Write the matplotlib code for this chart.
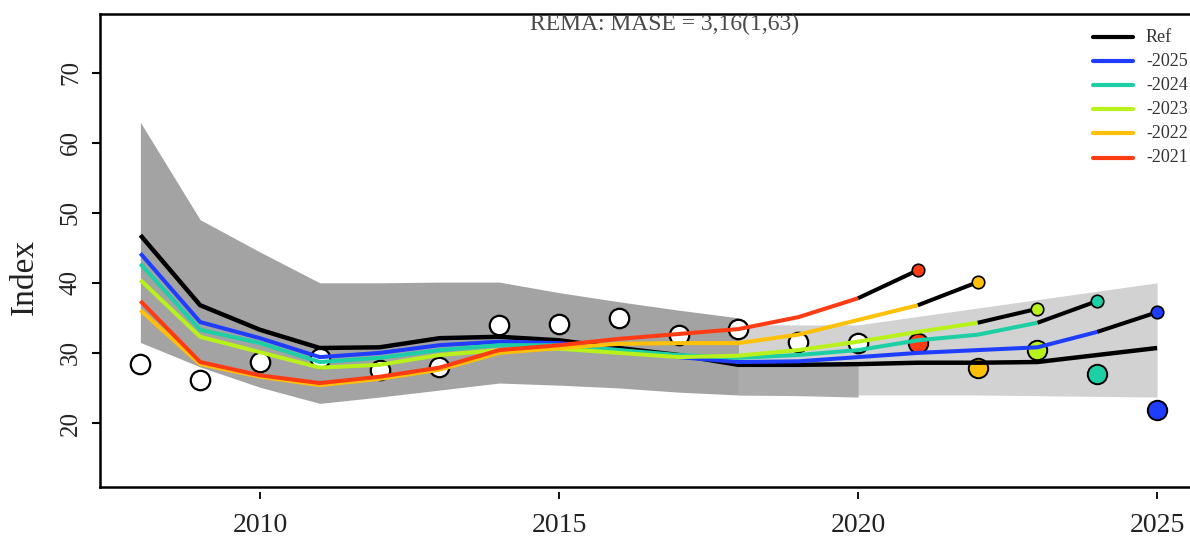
import matplotlib
matplotlib.use("Agg")
import matplotlib.pyplot as plt
import numpy as np

# ---------------- data ----------------
years = list(range(2008, 2026))
obs_years = list(range(2008, 2021))
obs_vals = [28.4, 26.1, 28.7, 29.3, 27.6, 28.0, 34.0, 34.1, 35.0, 32.6, 33.4, 31.6, 31.4]

ref_vals = [46.8, 36.8, 33.3, 30.7, 30.8, 32.1, 32.3, 31.8, 30.7, 29.7, 28.3, 28.3,
            28.4, 28.6, 28.6, 28.7, 29.7, 30.7]

peel_labels = ["-2025", "-2024", "-2023", "-2022", "-2021"]
peel_colors = ["#1f3dff", "#1ccfa5", "#b9f21b", "#ffc107", "#ff3b14"]
peel_end = [2025, 2024, 2023, 2022, 2021]
peel_2025 = [44.2, 34.4, 32.1, 29.4, 30.0, 31.1, 31.6, 31.4, 30.4, 29.4, 28.7, 28.8,
             29.4, 30.0, 30.4, 30.8, 33.0, 35.8]
peel_2024 = [42.7, 33.3, 31.4, 28.7, 29.3, 30.4, 31.1, 31.1, 30.4, 29.7, 29.3, 29.7,
             30.4, 31.8, 32.6, 34.3, 37.4]
peel_2023 = [40.4, 32.3, 30.1, 27.9, 28.3, 29.7, 30.4, 30.6, 30.0, 29.4, 29.6, 30.4,
             31.6, 33.0, 34.3, 36.3]
peel_2022 = [36.1, 28.4, 26.6, 25.4, 26.3, 27.6, 30.0, 30.7, 31.3, 31.4, 31.4, 32.6,
             34.7, 36.8, 40.1]
peel_2021 = [37.4, 28.7, 26.8, 25.7, 26.6, 27.9, 30.4, 31.1, 32.0, 32.7, 33.4, 35.1,
             37.8, 41.8]
peel_series = [peel_2025, peel_2024, peel_2023, peel_2022, peel_2021]

# observed values of the peeled years
peel_obs = [21.9, 27.0, 30.4, 27.8, 31.4]

# confidence bands
band_years = list(range(2008, 2019))
band_upper = [62.9, 49.0, 44.4, 40.0, 40.0, 40.1, 40.1, 38.6, 37.3, 36.1, 35.0]
band_lower_years = list(range(2008, 2021))
band_lower = [31.5, 28.0, 25.1, 22.8, 23.7, 24.7, 25.7, 25.4, 25.0, 24.4, 24.0, 23.9, 23.7]
fc_years = list(range(2018, 2026))
fc_upper = [34.0, 34.0, 34.0, 35.2, 36.4, 37.6, 38.8, 40.0]
fc_lower = [24.0, 24.0, 24.0, 24.0, 24.0, 23.9, 23.8, 23.7]

title = "REMA: MASE = 3,16(1,63)"
x_ticks = [2010, 2015, 2020, 2025]
y_ticks = [20, 30, 40, 50, 60, 70]

# ---------------- figure ----------------
SERIF = ["Liberation Serif", "DejaVu Serif"]
plt.rcParams["font.family"] = SERIF

fig = plt.figure(figsize=(11.9, 5.38), dpi=100)
ax = fig.add_axes([100 / 1190, 1 - 487 / 538, 1 - 100 / 1190, (487 - 13.5) / 538])
ax.set_xlim(2007.325, 2025.55)
ax.set_ylim(10.87, 78.42)

# bands
ax.fill_between(fc_years, fc_upper, fc_lower, color="#d2d2d2", lw=0, zorder=1)
ax.fill_between(band_years, band_upper, band_lower[:len(band_years)],
                color="#a3a3a3", lw=0, zorder=1.2)
i18 = years.index(2018)
ax.fill_between(band_lower_years[i18:], ref_vals[i18:i18 + 3], band_lower[i18:],
                color="#ababab", lw=0, zorder=1.1)

# observations
ax.plot(obs_years, obs_vals, "o", ms=14, mfc="white", mec="black", mew=1.6, zorder=2)
for c, yr, v in zip(peel_colors, peel_end, peel_obs):
    ax.plot([yr], [v], "o", ms=14, mfc=c, mec="black", mew=1.4, zorder=2)

# reference
ax.plot(years, ref_vals, color="black", lw=3.2, zorder=3, solid_capstyle="butt")

# peels
for k, (c, yr, s) in enumerate(zip(peel_colors, peel_end, peel_series)):
    yrs = years[:len(s)]
    ax.plot(yrs[:-1], s[:-1], color=c, lw=2.9, zorder=4 + k * 0.1, solid_capstyle="butt")
    ax.plot(yrs[-2:], s[-2:], color="black", lw=2.9, zorder=5, solid_capstyle="butt")
    ax.plot([yrs[-1]], [s[-1]], "o", ms=9, mfc=c, mec="black", mew=1.2, zorder=6)

# frame
for sp in ["left", "top", "bottom"]:
    ax.spines[sp].set_linewidth(1.8)
ax.spines["right"].set_visible(False)

# y axis
ax.set_yticks(y_ticks)
ax.set_yticklabels([str(t) for t in y_ticks], rotation=90, va="center",
                   fontsize=18, color="#222222")
ax.tick_params(axis="y", length=6, width=1.5, pad=7)

# x axis via offset secondary axis
ax.set_xticks([])
sec = ax.secondary_xaxis(-5 / 473.5)
sec.set_xticks(x_ticks)
sec.set_xticklabels([str(t) for t in x_ticks], fontsize=20, color="#222222")
sec.tick_params(axis="x", length=5, width=1.3, pad=10)
sec.spines["bottom"].set_visible(False)

# title text
ax.text((665 - 100) / 1090, 1 - (24 - 13.5) / 473.5, title, transform=ax.transAxes,
        ha="center", va="center", fontsize=17, color="#4a4a4a")

# y label
fig.text(25 / 1190, 1 - 277 / 538, "Index", rotation=90, ha="center", va="center",
         fontsize=24, color="#222222")

# legend (manual)
leg_labels = ["Ref"] + peel_labels
leg_colors = ["black"] + peel_colors
for i, (lab, c) in enumerate(zip(leg_labels, leg_colors)):
    yf = (487 - (37 + i * 24.1)) / 473.5
    ax.plot([(1093 - 100) / 1090, (1133 - 100) / 1090], [yf, yf], color=c, lw=3,
            transform=ax.transAxes, zorder=7, solid_capstyle="round")
    ax.text((1146 - 100) / 1090, yf, lab, transform=ax.transAxes, ha="left",
            va="center", fontsize=13, color="#333333", zorder=7)

fig.savefig("out.png", dpi=100)
